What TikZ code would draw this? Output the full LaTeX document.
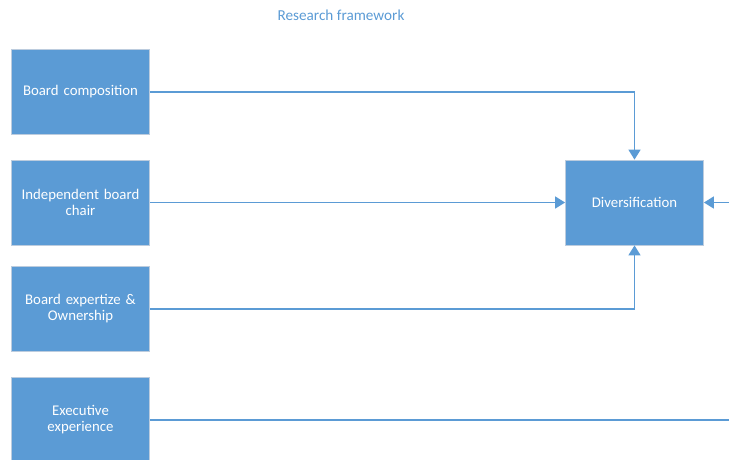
\documentclass[tikz,border=0pt]{standalone}
\usepackage{fontspec}
\setmainfont{Carlito}
\usetikzlibrary{arrows.meta,positioning,calc}
\definecolor{boxblue}{RGB}{91,155,213}
\definecolor{boxedge}{RGB}{188,204,222}
\definecolor{linkblue}{RGB}{91,155,213}
\definecolor{titleblue}{RGB}{91,155,213}
\tikzset{
  factor/.style={
    draw=boxedge, line width=.8pt, fill=boxblue,
    minimum width=138pt, minimum height=85pt, text width=132pt,
    align=center, inner sep=0pt, text=white,
    font=\fontsize{14.8}{16}\selectfont
  },
  outcome/.style={factor},
  link/.style={-{Triangle[length=10pt,width=12pt]}, line width=1.6pt, draw=linkblue},
  plainlink/.style={line width=1.6pt, draw=linkblue}
}
\begin{document}
\begin{tikzpicture}[x=1pt,y=-1pt]
  \clip (0,0) rectangle (729,459);
  % Title
  \node[text=titleblue,font=\fontsize{15.2}{16}\selectfont] (title) at (341,15)
    {Research framework};

  % Governance factors
  \node[factor] (comp) at (80.5,92) {Board composition};
  \node[factor] (chair) at (80.5,202.5) {Independent board\\chair};
  \node[factor] (expert) at (80.5,309) {Board expertize \&\\Ownership};
  \node[factor] (exec) at (80.5,419.5) {Executive\\experience};

  % Outcome
  \node[outcome] (div) at (634.5,202.5) {Diversification};

  % Free ends on the right edge
  \coordinate (rightin) at (732,202.5);
  \coordinate (execout) at (732,420);

  % Factors to diversification
  \draw[link] (comp.east) -| (div.north);
  \draw[link] (chair.east) -- (div.west);
  \draw[link] (expert.east) -| (div.south);
  \draw[link] (rightin) -- (div.east);
  \draw[plainlink] (exec.east |- execout) -- (execout);
\end{tikzpicture}
\end{document}
